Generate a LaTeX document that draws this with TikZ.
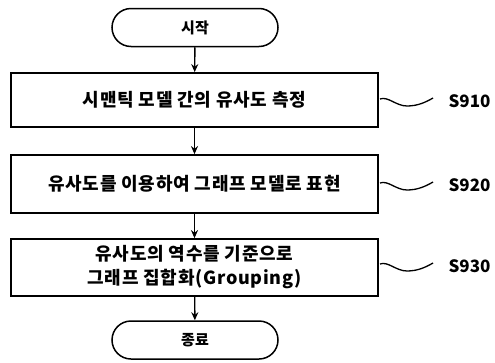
\documentclass[tikz,border=0pt]{standalone}
\usepackage{fontspec}
\newfontfamily\kr{Noto Sans CJK KR}
\newfontfamily\krw[LetterSpace=4]{Noto Sans CJK KR}
\usetikzlibrary{arrows.meta}
\begin{document}
\begin{tikzpicture}[x=1pt,y=-1pt,
  stepbox/.style={draw,line width=1.8pt,minimum width=367pt,inner sep=0pt,align=center,font=\krw\bfseries\fontsize{18}{24}\selectfont},
  term/.style={draw,line width=1.5pt,rounded corners=19pt,minimum width=166pt,minimum height=38pt,inner sep=0pt,font=\kr\bfseries\fontsize{15}{16}\selectfont},
  arr/.style={line width=1.4pt,-{Stealth[length=8pt,width=7pt]}},
  lbl/.style={font=\kr\bfseries\fontsize{17}{20}\selectfont,anchor=west},
  squig/.style={line width=1.3pt}]
\useasboundingbox (0,0) rectangle (495,362);
\node[term] (start) at (195,27.5) {시작};
\node[stepbox,minimum height=54pt] (s1) at (194.5,100) {시맨틱 모델 간의 유사도 측정};
\node[stepbox,minimum height=58pt] (s2) at (194.5,184) {유사도를 이용하여 그래프 모델로 표현};
\node[stepbox,minimum height=57pt] (s3) at (194.5,267.5) {유사도의 역수를 기준으로\\그래프 집합화(Grouping)};
\node[term] (end) at (195,340) {종료};
\draw[arr] (start) -- (s1);
\draw[arr] (s1) -- (s2);
\draw[arr] (s2) -- (s3);
\draw[arr] (s3) -- (end);
\foreach \s/\y/\t in {s1/100/S910,s2/184/S920,s3/265/S930}{
  \coordinate (a\s) at (380,\y-1);
  \node[lbl] (l\s) at (445,\y+1) {\t};
  \draw[squig] (a\s) .. controls (388,\y-4) and (396,\y+6) .. (407,\y+6) .. controls (418,\y+6) and (426,\y+2) .. (433,\y-2);
}
\end{tikzpicture}
\end{document}
